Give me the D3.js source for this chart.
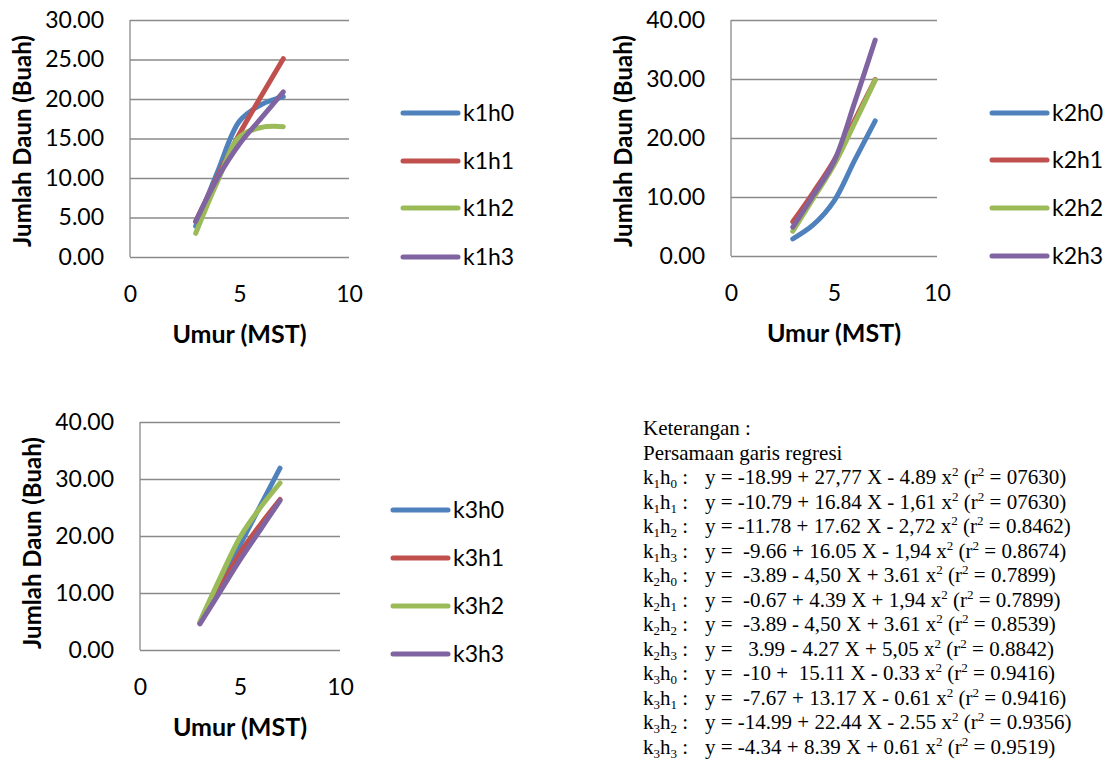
<!DOCTYPE html>
<html>
<head>
<meta charset="utf-8">
<script src="https://cdn.jsdelivr.net/npm/d3@7"></script>
<style>
  body { margin: 0; background: #fff; }
  svg text { font-family: Lato, "Open Sans", sans-serif; fill: #000; }
  .note text { font-family: "Liberation Serif", "Times New Roman", serif; white-space: pre; }
</style>
</head>
<body>
<svg id="chart" width="1108" height="760"></svg>
<script>
// weeks after planting (MST)
var weeks = [3, 4, 5, 6, 7];
var xTicks = [0, 5, 10];
var colors = ['#4F81BD', '#C0504D', '#9BBB59', '#8064A2'];

// leaf counts
var k1h0 = [3.9, 10.8, 17.2, 19.3, 20.3];
var k1h1 = [4.5, 10.2, 15.6, 20.4, 25.1];
var k1h2 = [3.0, 9.6, 15.2, 16.4, 16.5];
var k1h3 = [4.5, 10.0, 14.3, 17.6, 20.9];

var k2h0 = [2.9, 5.3, 9.3, 16.2, 22.9];
var k2h1 = [5.8, 10.8, 16.2, 23.0, 29.9];
var k2h2 = [4.2, 9.8, 15.4, 22.5, 29.8];
var k2h3 = [4.9, 10.3, 16.0, 26.0, 36.6];

var k3h0 = [4.7, 11.5, 18.4, 25.2, 31.9];
var k3h1 = [4.7, 10.8, 17.0, 21.9, 26.4];
var k3h2 = [5.0, 12.6, 19.8, 24.9, 29.3];
var k3h3 = [4.6, 10.2, 15.8, 21.0, 26.2];

var k1Ticks = [0, 5, 10, 15, 20, 25, 30];
var k2Ticks = [0, 10, 20, 30, 40];
var k3Ticks = [0, 10, 20, 30, 40];

// regression notes
var noteTitle = ['Keterangan :', 'Persamaan garis regresi'];
var eqK = ['1', '1', '1', '1', '2', '2', '2', '2', '3', '3', '3', '3'];
var eqH = ['0', '1', '2', '3', '0', '1', '2', '3', '0', '1', '2', '3'];
var eqText = [
  'y = -18.99 + 27,77 X - 4.89 x^2 (r^2 = 07630)',
  'y = -10.79 + 16.84 X - 1,61 x^2 (r^2 = 07630)',
  'y = -11.78 + 17.62 X - 2,72 x^2 (r^2 = 0.8462)',
  'y =  -9.66 + 16.05 X - 1,94 x^2 (r^2 = 0.8674)',
  'y =  -3.89 - 4,50 X + 3.61 x^2 (r^2 = 0.7899)',
  'y =  -0.67 + 4.39 X + 1,94 x^2 (r^2 = 0.7899)',
  'y =  -3.89 - 4,50 X + 3.61 x^2 (r^2 = 0.8539)',
  'y =   3.99 - 4.27 X + 5,05 x^2 (r^2 = 0.8842)',
  'y =  -10 +  15.11 X - 0.33 x^2 (r^2 = 0.9416)',
  'y =  -7.67 + 13.17 X - 0.61 x^2 (r^2 = 0.9416)',
  'y = -14.99 + 22.44 X - 2.55 x^2 (r^2 = 0.9356)',
  'y = -4.34 + 8.39 X + 0.61 x^2 (r^2 = 0.9519)'
];

var svg = d3.select('#chart');

var charts = [
  { names: ['k1h0', 'k1h1', 'k1h2', 'k1h3'], series: [k1h0, k1h1, k1h2, k1h3], ticks: k1Ticks,
    left: 130, right: 349, top: 20, bottom: 257, legX: 403, legY: [113, 161, 208, 257], yTitleX: 23 },
  { names: ['k2h0', 'k2h1', 'k2h2', 'k2h3'], series: [k2h0, k2h1, k2h2, k2h3], ticks: k2Ticks,
    left: 731, right: 937, top: 20, bottom: 256, legX: 992, legY: [113, 160, 208, 256], yTitleX: 624 },
  { names: ['k3h0', 'k3h1', 'k3h2', 'k3h3'], series: [k3h0, k3h1, k3h2, k3h3], ticks: k3Ticks,
    left: 140, right: 340, top: 422, bottom: 650, legX: 393, legY: [510, 558, 606, 654], yTitleX: 33 }
];

charts.forEach(function(c) {
  var w = c.right - c.left;
  var h = c.bottom - c.top;
  var x = d3.scaleLinear().domain([0, 10]).range([0, w]);
  var y = d3.scaleLinear().domain([0, d3.max(c.ticks)]).range([h, 0]);

  var g = svg.append('g').attr('transform', 'translate(' + c.left + ',' + c.top + ')');

  var yAxis = g.append('g')
    .call(d3.axisLeft(y).tickValues(c.ticks).tickSize(-w).tickPadding(26).tickFormat(d3.format('.2f')));
  yAxis.select('.domain').remove();
  yAxis.selectAll('line').attr('stroke', '#8a8a8a').attr('stroke-width', 1.3);
  yAxis.selectAll('text').attr('font-size', 23).attr('font-family', 'Lato').attr('fill', '#000');

  g.append('line')
    .attr('x1', 0).attr('x2', 0).attr('y1', 0).attr('y2', h)
    .attr('stroke', '#8a8a8a').attr('stroke-width', 1.3);

  var xAxis = g.append('g').attr('transform', 'translate(0,' + h + ')')
    .call(d3.axisBottom(x).tickValues(xTicks).tickSize(0).tickPadding(29));
  xAxis.select('.domain').remove();
  xAxis.selectAll('text').attr('font-size', 23).attr('font-family', 'Lato').attr('fill', '#000');

  var line = d3.line()
    .x(function(d, i) { return x(weeks[i]); })
    .y(function(d) { return y(d); })
    .curve(d3.curveCatmullRom.alpha(0.5));

  c.series.forEach(function(s, i) {
    g.append('path')
      .attr('d', line(s))
      .attr('fill', 'none')
      .attr('stroke', colors[i])
      .attr('stroke-width', 5)
      .attr('stroke-linecap', 'round')
      .attr('stroke-linejoin', 'round');
  });

  // axis titles
  svg.append('text')
    .attr('x', c.left + x(5))
    .attr('y', c.bottom + 77)
    .attr('dy', '0.35em')
    .attr('text-anchor', 'middle')
    .attr('font-size', 25)
    .attr('font-weight', 'bold')
    .text('Umur (MST)');

  svg.append('text')
    .attr('transform', 'translate(' + c.yTitleX + ',' + (c.top + 121) + ') rotate(-90)')
    .attr('dy', '0.35em')
    .attr('text-anchor', 'middle')
    .attr('font-size', 24)
    .attr('font-weight', 'bold')
    .text('Jumlah Daun (Buah)');

  // legend
  c.names.forEach(function(n, i) {
    svg.append('line')
      .attr('x1', c.legX).attr('x2', c.legX + 55)
      .attr('y1', c.legY[i]).attr('y2', c.legY[i])
      .attr('stroke', colors[i]).attr('stroke-width', 5).attr('stroke-linecap', 'round');
    svg.append('text')
      .attr('x', c.legX + 60).attr('y', c.legY[i])
      .attr('dy', '0.35em')
      .attr('font-size', 23)
      .text(n);
  });
});

// regression notes
var note = svg.append('g').attr('class', 'note');
var lineStep = 24.5;
var noteTop = 428;
var fs = 21;
var base = 7;

noteTitle.forEach(function(t, i) {
  note.append('text')
    .attr('x', 643).attr('y', noteTop + i * lineStep + base)
    .attr('font-size', fs)
    .text(t);
});

eqText.forEach(function(t, i) {
  var yy = noteTop + (i + 2) * lineStep + base;
  var lab = note.append('text')
    .attr('x', 643).attr('y', yy).attr('font-size', fs);
  lab.append('tspan').text('k');
  lab.append('tspan').attr('font-size', 13).attr('dy', 4).text(eqK[i]);
  lab.append('tspan').attr('dy', -4).text('h');
  lab.append('tspan').attr('font-size', 13).attr('dy', 4).text(eqH[i]);
  lab.append('tspan').attr('dy', -4).text(' :');

  var eq = note.append('text')
    .attr('x', 705).attr('y', yy).attr('font-size', fs);
  var parts = t.split('^2');
  parts.forEach(function(p, j) {
    eq.append('tspan').attr('dy', j === 0 ? 0 : 8).text(p);
    if (j < parts.length - 1) {
      eq.append('tspan').attr('font-size', 13).attr('dy', -8).text('2');
    }
  });
});
</script>
</body>
</html>
